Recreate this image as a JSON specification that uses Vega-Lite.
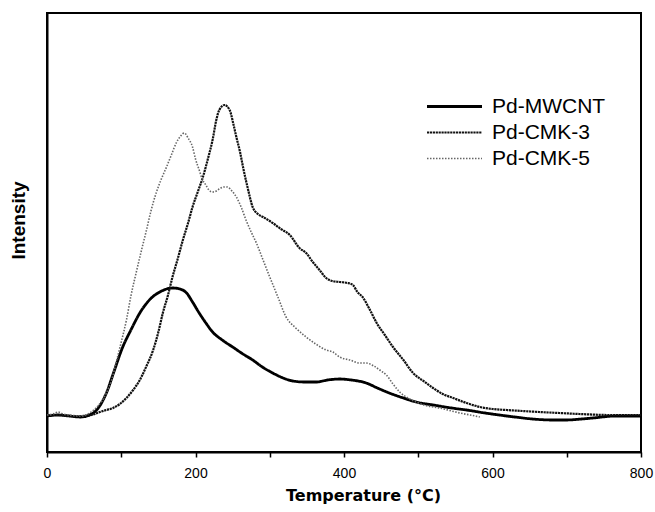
{
  "$schema": "https://vega.github.io/schema/vega-lite/v6.json",
  "autosize": "none",
  "width": 594,
  "height": 439,
  "padding": {"left": 47, "top": 13, "right": 14, "bottom": 60},
  "background": "white",
  "config": {
    "view": {"stroke": "black", "strokeWidth": 2},
    "font": "Liberation Sans"
  },
  "data": {"values": [
    {"s":"Pd-MWCNT","t":0,"v":36},{"s":"Pd-MWCNT","t":15,"v":37},{"s":"Pd-MWCNT","t":30,"v":36},{"s":"Pd-MWCNT","t":45,"v":35},{"s":"Pd-MWCNT","t":60,"v":38},{"s":"Pd-MWCNT","t":70,"v":45},{"s":"Pd-MWCNT","t":80,"v":59},{"s":"Pd-MWCNT","t":90,"v":80},{"s":"Pd-MWCNT","t":102,"v":105},{"s":"Pd-MWCNT","t":113,"v":122},{"s":"Pd-MWCNT","t":125,"v":139},{"s":"Pd-MWCNT","t":142,"v":155},{"s":"Pd-MWCNT","t":152,"v":160},{"s":"Pd-MWCNT","t":161,"v":163},{"s":"Pd-MWCNT","t":170,"v":164},{"s":"Pd-MWCNT","t":179,"v":163},{"s":"Pd-MWCNT","t":188,"v":159},{"s":"Pd-MWCNT","t":196,"v":150},{"s":"Pd-MWCNT","t":205,"v":139},{"s":"Pd-MWCNT","t":214,"v":129},{"s":"Pd-MWCNT","t":223,"v":120},{"s":"Pd-MWCNT","t":236,"v":112},{"s":"Pd-MWCNT","t":250,"v":105},{"s":"Pd-MWCNT","t":264,"v":98},{"s":"Pd-MWCNT","t":277,"v":92},{"s":"Pd-MWCNT","t":290,"v":85},{"s":"Pd-MWCNT","t":304,"v":79},{"s":"Pd-MWCNT","t":318,"v":74},{"s":"Pd-MWCNT","t":331,"v":71},{"s":"Pd-MWCNT","t":347,"v":70},{"s":"Pd-MWCNT","t":363,"v":70},{"s":"Pd-MWCNT","t":378,"v":72},{"s":"Pd-MWCNT","t":394,"v":73},{"s":"Pd-MWCNT","t":410,"v":72},{"s":"Pd-MWCNT","t":430,"v":69},{"s":"Pd-MWCNT","t":445,"v":64},{"s":"Pd-MWCNT","t":461,"v":59},{"s":"Pd-MWCNT","t":480,"v":54},{"s":"Pd-MWCNT","t":497,"v":50},{"s":"Pd-MWCNT","t":520,"v":47},{"s":"Pd-MWCNT","t":545,"v":44},{"s":"Pd-MWCNT","t":565,"v":42},{"s":"Pd-MWCNT","t":590,"v":39},{"s":"Pd-MWCNT","t":609,"v":37},{"s":"Pd-MWCNT","t":630,"v":35},{"s":"Pd-MWCNT","t":654,"v":33},{"s":"Pd-MWCNT","t":680,"v":32},{"s":"Pd-MWCNT","t":699,"v":32},{"s":"Pd-MWCNT","t":720,"v":33},{"s":"Pd-MWCNT","t":735,"v":34},{"s":"Pd-MWCNT","t":767,"v":36},{"s":"Pd-MWCNT","t":800,"v":36},
    {"s":"Pd-CMK-3","t":0,"v":37},{"s":"Pd-CMK-3","t":15,"v":37},{"s":"Pd-CMK-3","t":30,"v":36},{"s":"Pd-CMK-3","t":45,"v":36},{"s":"Pd-CMK-3","t":60,"v":37},{"s":"Pd-CMK-3","t":71,"v":40},{"s":"Pd-CMK-3","t":80,"v":42},{"s":"Pd-CMK-3","t":89,"v":44},{"s":"Pd-CMK-3","t":98,"v":48},{"s":"Pd-CMK-3","t":107,"v":54},{"s":"Pd-CMK-3","t":116,"v":62},{"s":"Pd-CMK-3","t":125,"v":72},{"s":"Pd-CMK-3","t":134,"v":86},{"s":"Pd-CMK-3","t":143,"v":102},{"s":"Pd-CMK-3","t":150,"v":120},{"s":"Pd-CMK-3","t":156,"v":139},{"s":"Pd-CMK-3","t":163,"v":157},{"s":"Pd-CMK-3","t":169,"v":175},{"s":"Pd-CMK-3","t":176,"v":193},{"s":"Pd-CMK-3","t":183,"v":212},{"s":"Pd-CMK-3","t":190,"v":229},{"s":"Pd-CMK-3","t":196,"v":245},{"s":"Pd-CMK-3","t":203,"v":260},{"s":"Pd-CMK-3","t":210,"v":275},{"s":"Pd-CMK-3","t":217,"v":294},{"s":"Pd-CMK-3","t":223,"v":312},{"s":"Pd-CMK-3","t":228,"v":332},{"s":"Pd-CMK-3","t":232,"v":342},{"s":"Pd-CMK-3","t":239,"v":347},{"s":"Pd-CMK-3","t":246,"v":342},{"s":"Pd-CMK-3","t":251,"v":328},{"s":"Pd-CMK-3","t":255,"v":315},{"s":"Pd-CMK-3","t":260,"v":300},{"s":"Pd-CMK-3","t":264,"v":285},{"s":"Pd-CMK-3","t":270,"v":265},{"s":"Pd-CMK-3","t":277,"v":245},{"s":"Pd-CMK-3","t":284,"v":238},{"s":"Pd-CMK-3","t":291,"v":235},{"s":"Pd-CMK-3","t":304,"v":229},{"s":"Pd-CMK-3","t":315,"v":223},{"s":"Pd-CMK-3","t":327,"v":217},{"s":"Pd-CMK-3","t":340,"v":204},{"s":"Pd-CMK-3","t":349,"v":199},{"s":"Pd-CMK-3","t":358,"v":190},{"s":"Pd-CMK-3","t":367,"v":182},{"s":"Pd-CMK-3","t":376,"v":174},{"s":"Pd-CMK-3","t":384,"v":171},{"s":"Pd-CMK-3","t":394,"v":170},{"s":"Pd-CMK-3","t":405,"v":169},{"s":"Pd-CMK-3","t":412,"v":167},{"s":"Pd-CMK-3","t":418,"v":160},{"s":"Pd-CMK-3","t":425,"v":155},{"s":"Pd-CMK-3","t":435,"v":142},{"s":"Pd-CMK-3","t":444,"v":129},{"s":"Pd-CMK-3","t":455,"v":117},{"s":"Pd-CMK-3","t":466,"v":105},{"s":"Pd-CMK-3","t":480,"v":92},{"s":"Pd-CMK-3","t":493,"v":79},{"s":"Pd-CMK-3","t":507,"v":71},{"s":"Pd-CMK-3","t":520,"v":64},{"s":"Pd-CMK-3","t":533,"v":58},{"s":"Pd-CMK-3","t":547,"v":54},{"s":"Pd-CMK-3","t":565,"v":49},{"s":"Pd-CMK-3","t":583,"v":45},{"s":"Pd-CMK-3","t":600,"v":43},{"s":"Pd-CMK-3","t":619,"v":42},{"s":"Pd-CMK-3","t":640,"v":41},{"s":"Pd-CMK-3","t":663,"v":40},{"s":"Pd-CMK-3","t":690,"v":39},{"s":"Pd-CMK-3","t":717,"v":38},{"s":"Pd-CMK-3","t":758,"v":37},{"s":"Pd-CMK-3","t":800,"v":37},
    {"s":"Pd-CMK-5","t":0,"v":37},{"s":"Pd-CMK-5","t":8,"v":38},{"s":"Pd-CMK-5","t":15,"v":40},{"s":"Pd-CMK-5","t":22,"v":38},{"s":"Pd-CMK-5","t":30,"v":37},{"s":"Pd-CMK-5","t":45,"v":36},{"s":"Pd-CMK-5","t":55,"v":38},{"s":"Pd-CMK-5","t":66,"v":44},{"s":"Pd-CMK-5","t":73,"v":50},{"s":"Pd-CMK-5","t":80,"v":59},{"s":"Pd-CMK-5","t":87,"v":72},{"s":"Pd-CMK-5","t":93,"v":89},{"s":"Pd-CMK-5","t":100,"v":110},{"s":"Pd-CMK-5","t":107,"v":132},{"s":"Pd-CMK-5","t":113,"v":156},{"s":"Pd-CMK-5","t":120,"v":179},{"s":"Pd-CMK-5","t":127,"v":201},{"s":"Pd-CMK-5","t":134,"v":222},{"s":"Pd-CMK-5","t":140,"v":241},{"s":"Pd-CMK-5","t":147,"v":259},{"s":"Pd-CMK-5","t":154,"v":273},{"s":"Pd-CMK-5","t":161,"v":285},{"s":"Pd-CMK-5","t":168,"v":298},{"s":"Pd-CMK-5","t":174,"v":309},{"s":"Pd-CMK-5","t":180,"v":316},{"s":"Pd-CMK-5","t":185,"v":319},{"s":"Pd-CMK-5","t":190,"v":314},{"s":"Pd-CMK-5","t":196,"v":305},{"s":"Pd-CMK-5","t":200,"v":293},{"s":"Pd-CMK-5","t":205,"v":282},{"s":"Pd-CMK-5","t":209,"v":273},{"s":"Pd-CMK-5","t":214,"v":267},{"s":"Pd-CMK-5","t":218,"v":262},{"s":"Pd-CMK-5","t":223,"v":260},{"s":"Pd-CMK-5","t":228,"v":261},{"s":"Pd-CMK-5","t":232,"v":263},{"s":"Pd-CMK-5","t":238,"v":265},{"s":"Pd-CMK-5","t":243,"v":265},{"s":"Pd-CMK-5","t":249,"v":261},{"s":"Pd-CMK-5","t":255,"v":255},{"s":"Pd-CMK-5","t":262,"v":244},{"s":"Pd-CMK-5","t":268,"v":232},{"s":"Pd-CMK-5","t":275,"v":220},{"s":"Pd-CMK-5","t":282,"v":209},{"s":"Pd-CMK-5","t":291,"v":192},{"s":"Pd-CMK-5","t":300,"v":175},{"s":"Pd-CMK-5","t":311,"v":155},{"s":"Pd-CMK-5","t":322,"v":135},{"s":"Pd-CMK-5","t":335,"v":124},{"s":"Pd-CMK-5","t":349,"v":115},{"s":"Pd-CMK-5","t":362,"v":108},{"s":"Pd-CMK-5","t":376,"v":102},{"s":"Pd-CMK-5","t":385,"v":100},{"s":"Pd-CMK-5","t":394,"v":95},{"s":"Pd-CMK-5","t":408,"v":92},{"s":"Pd-CMK-5","t":421,"v":89},{"s":"Pd-CMK-5","t":430,"v":89},{"s":"Pd-CMK-5","t":440,"v":86},{"s":"Pd-CMK-5","t":450,"v":81},{"s":"Pd-CMK-5","t":457,"v":77},{"s":"Pd-CMK-5","t":466,"v":68},{"s":"Pd-CMK-5","t":475,"v":60},{"s":"Pd-CMK-5","t":486,"v":54},{"s":"Pd-CMK-5","t":497,"v":50},{"s":"Pd-CMK-5","t":513,"v":46},{"s":"Pd-CMK-5","t":529,"v":44},{"s":"Pd-CMK-5","t":545,"v":41},{"s":"Pd-CMK-5","t":556,"v":39},{"s":"Pd-CMK-5","t":570,"v":37},{"s":"Pd-CMK-5","t":583,"v":35}
  ]},
  "mark": {"type": "line", "interpolate": "monotone"},
  "encoding": {
    "x": {
      "field": "t", "type": "quantitative",
      "scale": {"domain": [0, 800], "nice": false, "zero": false},
      "axis": {
        "values": [0,100,200,300,400,500,600,700,800],
        "labelExpr": "datum.value % 200 === 0 ? datum.label : ''",
        "grid": false,
        "domainColor": "black", "domainWidth": 2,
        "tickColor": "black", "tickWidth": 1.5, "tickSize": 5,
        "labelColor": "black", "labelFontSize": 14, "labelFont": "Liberation Sans", "labelPadding": 9,
        "labelFlush": false, "labelOverlap": false,
        "title": "Temperature (°C)",
        "titleFont": "DejaVu Sans", "titleFontSize": 16, "titleFontWeight": "bold", "titleColor": "black",
        "titlePadding": 7, "titleX": 316, "titleAlign": "center"
      }
    },
    "y": {
      "field": "v", "type": "quantitative",
      "scale": {"domain": [0, 439], "nice": false, "zero": false},
      "axis": {
        "labels": false, "ticks": false, "grid": false,
        "domainColor": "black", "domainWidth": 2,
        "title": "Intensity",
        "titleFont": "Liberation Sans", "titleFontSize": 19, "titleFontWeight": "bold", "titleColor": "black",
        "titlePadding": 19, "titleY": 207, "titleAlign": "center"
      }
    },
    "color": {
      "field": "s", "type": "nominal",
      "scale": {"domain": ["Pd-MWCNT", "Pd-CMK-3", "Pd-CMK-5"], "range": ["#000000", "#111111", "#666666"]},
      "legend": {
        "title": null, "orient": "none", "legendX": 397, "legendY": 83,
        "symbolType": "M-5,0H5", "symbolSize": 121, "symbolStrokeWidth": 1.6,
        "labelFontSize": 21, "labelFont": "Liberation Sans", "labelColor": "black",
        "labelOffset": 27, "rowPadding": 4
      }
    },
    "strokeDash": {
      "field": "s", "type": "nominal",
      "scale": {"domain": ["Pd-MWCNT", "Pd-CMK-3", "Pd-CMK-5"], "range": [[1, 0], [2.2, 0.7], [1.5, 1.5]]},
      "legend": {
        "title": null, "orient": "none", "legendX": 397, "legendY": 83,
        "symbolType": "M-5,0H5", "symbolSize": 121, "symbolStrokeWidth": 1.6,
        "labelFontSize": 21, "labelFont": "Liberation Sans", "labelColor": "black",
        "labelOffset": 27, "rowPadding": 4
      }
    },
    "strokeWidth": {
      "field": "s", "type": "nominal",
      "scale": {"domain": ["Pd-MWCNT", "Pd-CMK-3", "Pd-CMK-5"], "range": [2.8, 1.6, 1.4]},
      "legend": null
    }
  }
}
